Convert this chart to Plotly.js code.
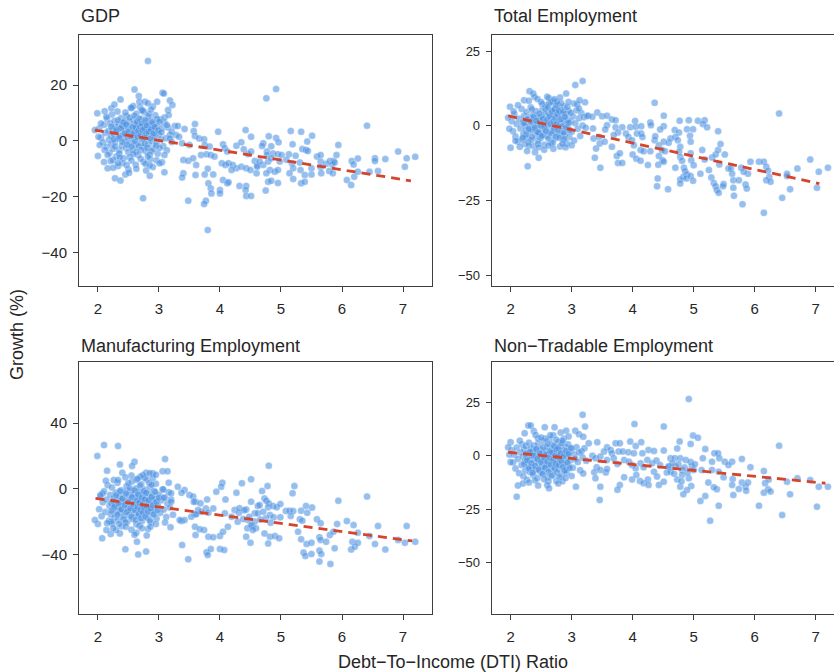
<!DOCTYPE html>
<html>
<head>
<meta charset="utf-8">
<script src="https://cdn.plot.ly/plotly-3.0.1.min.js"></script>
<style>
html,body{margin:0;padding:0;overflow:hidden;background:#fff;}
#chart{width:860px;height:672px;}
</style>
</head>
<body>
<div id="chart"></div>
<script>
// ---- Data (DTI ratio, growth %) ----
const gdpPoints = [
[2.02,4.5],[2.05,1.2],[2.08,-0.5],[2.10,5.8],[2.12,2.9],[2.14,-2.1],[2.15,8.0],[2.17,3.6],[2.18,0.4],[2.19,-4.3],[2.20,6.3],[2.21,1.8],[2.22,-1.0],[2.23,9.5],[2.24,4.1],[2.25,-2.8],[2.26,2.5],[2.27,7.2],[2.28,-0.3],[2.29,5.0],[2.30,-5.6],[2.31,3.2],[2.32,10.6],[2.33,0.9],[2.34,6.0],[2.35,-3.4],[2.36,4.4],[2.37,1.6],[2.38,8.2],[2.39,-1.7],[2.40,5.5],[2.41,2.3],[2.42,-6.2],[2.43,7.0],[2.44,0.2],[2.45,3.8],[2.46,-2.5],[2.47,9.0],[2.48,5.2],[2.49,1.1],[2.50,-4.0],[2.51,6.8],[2.52,3.0],[2.53,-0.8],[2.54,11.8],[2.55,4.7],[2.56,2.0],[2.57,-3.1],[2.58,7.6],[2.59,0.5],[2.60,5.9],[2.61,3.4],[2.62,-1.4],[2.63,9.8],[2.64,1.9],[2.65,6.4],[2.66,-5.0],[2.67,4.0],[2.68,2.6],[2.69,12.2],[2.70,-0.6],[2.71,7.9],[2.72,3.7],[2.73,0.8],[2.74,5.4],[2.75,-2.2],[2.76,10.3],[2.77,2.8],[2.78,6.7],[2.79,-3.8],[2.80,4.3],[2.81,1.3],[2.82,8.8],[2.83,-1.1],[2.84,5.7],[2.85,3.1],[2.86,-6.6],[2.87,7.3],[2.88,0.0],[2.89,4.9],[2.90,2.2],[2.91,-2.9],[2.92,6.1],[2.93,1.5],[2.94,9.2],[2.95,3.5],[2.96,-0.9],[2.97,5.3],[2.98,-4.6],[3.00,2.4],[3.02,7.7],[3.03,0.6],[3.05,4.6],[3.07,-1.8],[3.09,6.5],[3.11,1.0],[3.13,-3.3],[3.15,4.8],[3.18,2.1],[3.21,-0.4],
[2.22,5.2],[2.26,0.6],[2.30,3.9],[2.33,7.4],[2.35,1.2],[2.38,4.6],[2.40,-0.4],[2.42,6.6],[2.44,2.7],[2.46,5.9],[2.48,-1.3],[2.50,3.3],[2.52,8.4],[2.53,1.7],[2.55,-2.0],[2.57,5.0],[2.59,2.9],[2.60,9.1],[2.61,-0.2],[2.62,4.8],[2.64,6.9],[2.65,1.4],[2.66,3.6],[2.67,-1.9],[2.68,8.0],[2.69,5.1],[2.70,2.0],[2.71,-3.2],[2.72,6.2],[2.73,3.9],[2.74,10.8],[2.75,1.0],[2.76,4.4],[2.77,-0.9],[2.78,7.5],[2.79,2.6],[2.80,5.6],[2.81,-2.4],[2.83,3.4],[2.84,9.6],[2.86,0.9],[2.87,4.2],[2.88,-3.6],[2.89,6.7],[2.91,2.7],[2.93,5.0],[2.95,-1.6],[2.97,7.9],[2.99,3.8],[3.01,-2.5],[2.58,12.5],[2.72,11.0],[2.45,10.2],[2.90,12.4],[2.35,-4.5],[2.63,-3.9],[2.85,-4.9],[2.52,-5.8],[2.75,-7.5],[2.28,-2.0],
[2.10,-7.5],[2.25,-6.8],[2.33,-9.0],[2.40,-7.9],[2.55,-7.0],[2.62,-8.5],[2.70,-6.4],[2.78,-8.2],[2.90,-9.3],[2.96,-6.9],[2.45,-12.0],[2.58,-4.7],[2.36,-5.9],[2.16,-9.8],[2.50,-10.2],[2.85,-12.5],[3.05,-7.6],
[1.99,9.9],[1.95,3.9],[2.01,1.5],[2.00,-5.4],[2.03,-1.4],[2.11,-3.2],[2.16,-5.0],[2.21,-7.2],[2.25,-9.6],[2.33,-8.0],[2.28,-13.4],[2.37,-14.2],[2.51,-11.4],[2.63,-10.0],[2.47,-8.6],[2.79,-10.6],[2.85,-8.8],[2.82,-5.6],[3.01,-8.0],[3.09,-11.2],[3.09,-5.0],[3.04,3.1],[2.22,11.7],[2.11,10.7],[2.27,13.1],[2.37,14.9],[2.14,8.7],[2.05,6.3],[2.55,11.9],[2.60,18.5],[2.67,16.1],[2.68,14.1],[2.77,14.1],[2.82,13.5],[2.87,11.3],[2.97,14.1],[3.06,17.3],[3.08,17.0],[3.18,14.5],[3.22,12.9],[3.15,11.1],[3.09,8.4],[3.16,9.3],[3.01,6.9],[2.82,28.7],[2.74,-20.5],
[3.13,5.7],[3.26,5.4],[3.31,5.4],[3.42,4.3],[3.21,3.3],[3.28,2.1],[3.33,1.5],[3.59,6.1],[3.57,3.6],[3.59,1.8],[3.66,0.9],[3.74,0.6],[3.97,3.3],[4.42,3.9],[4.51,1.5],[3.18,0.9],[3.38,-0.8],[3.50,-1.4],[3.75,-1.4],[3.83,-2.0],[4.05,-1.2],[4.08,-2.6],[4.12,-3.8],[4.27,-1.7],[4.35,-0.5],[4.39,-3.0],[4.46,-4.7],[4.57,-7.2],[4.61,-8.8],[3.40,-6.8],[3.48,-7.1],[3.56,-6.2],[3.69,-5.0],[3.78,-4.8],[3.85,-5.0],[3.91,-5.6],[3.61,-8.6],[3.80,-10.0],[4.03,-8.0],[4.09,-8.6],[4.14,-8.0],[4.21,-8.6],[4.27,-9.8],[4.35,-9.2],[4.43,-9.8],[4.50,-10.4],[4.19,-10.4],[3.89,-12.0],[3.75,-12.0],[3.60,-12.2],[3.40,-11.6],[3.38,-13.1],[3.81,-15.2],[3.85,-17.0],[3.86,-18.8],[4.00,-17.6],[4.00,-18.8],[4.05,-14.0],[4.12,-15.2],[4.14,-14.8],[4.32,-16.1],[4.43,-16.1],[4.42,-17.6],[4.43,-19.7],[4.51,-19.7],[3.48,-21.4],[3.77,-21.4],[3.74,-22.6],[3.80,-31.9],
[4.76,15.3],[4.92,18.6],[6.41,5.5],[4.80,1.7],[4.92,1.1],[5.16,3.6],[5.33,3.3],[5.51,1.9],[4.96,-0.5],[4.71,-0.8],[4.69,-1.8],[4.84,-1.9],[5.19,-1.2],[5.35,-2.9],[5.43,-0.2],[5.41,-3.2],[5.44,-3.6],[5.94,-1.4],[4.51,-3.8],[4.77,-3.8],[4.77,-5.0],[4.87,-4.5],[4.95,-4.8],[5.01,-5.0],[5.13,-4.8],[5.24,-5.3],[5.09,-6.7],[5.31,-7.7],[5.18,-8.0],[5.50,-9.8],[5.59,-5.6],[5.65,-5.0],[5.65,-7.4],[5.65,-9.4],[5.66,-11.6],[5.74,-8.2],[5.80,-7.2],[5.86,-7.2],[5.84,-8.4],[5.88,-7.7],[5.91,-5.0],[5.79,-10.8],[5.85,-11.6],[6.16,-7.2],[6.19,-8.4],[6.26,-6.3],[6.08,-14.0],[6.15,-15.8],[6.20,-12.8],[6.26,-11.0],[6.45,-11.0],[6.59,-10.8],[6.54,-6.2],[6.54,-7.2],[6.71,-6.5],[6.92,-3.8],[7.06,-6.2],[7.20,-5.7],[7.03,-9.2],[4.79,-14.6],[4.84,-14.3],[4.75,-17.8],[5.20,-13.6],[5.33,-15.2],[5.39,-14.6],[5.14,-11.6],[5.39,-12.2],[5.50,-12.0],[4.95,-15.1],[4.82,-10.4],[4.90,-11.0],[4.95,-10.4],[4.71,-8.6],[4.65,-7.4],[4.61,-9.2],[4.60,-11.6],[4.79,-7.4],[4.84,-6.2],[4.98,-7.4],[4.76,-11.6],[5.20,-9.8],[5.32,-10.4]
];
const totPoints = [
[2.02,1.5],[2.04,-1.8],[2.06,3.9],[2.08,-3.6],[2.10,0.6],[2.12,-5.2],[2.14,2.4],[2.16,-0.9],[2.18,5.6],[2.19,-4.5],[2.20,1.2],[2.21,-2.7],[2.22,3.3],[2.23,-6.1],[2.24,0.2],[2.25,-1.5],[2.26,4.6],[2.27,-3.9],[2.28,1.9],[2.29,-5.5],[2.30,-0.4],[2.31,2.8],[2.32,-2.1],[2.33,6.2],[2.34,-4.8],[2.35,0.9],[2.36,-1.2],[2.37,3.6],[2.38,-6.8],[2.39,-0.1],[2.40,2.1],[2.41,-3.2],[2.42,4.9],[2.43,-1.9],[2.44,0.5],[2.45,-5.0],[2.46,2.6],[2.47,-2.4],[2.48,1.4],[2.49,-4.1],[2.50,3.0],[2.51,-0.7],[2.52,5.3],[2.53,-2.9],[2.54,0.8],[2.55,-6.3],[2.56,3.8],[2.57,-1.3],[2.58,6.8],[2.59,1.6],[2.60,-3.5],[2.61,4.4],[2.62,0.0],[2.63,7.5],[2.64,-2.2],[2.65,2.9],[2.66,-5.7],[2.67,5.1],[2.68,1.1],[2.69,8.3],[2.70,-1.6],[2.71,3.5],[2.72,-4.3],[2.73,6.0],[2.74,0.4],[2.75,-2.6],[2.76,4.2],[2.77,-0.5],[2.78,7.1],[2.79,-3.0],[2.80,2.3],[2.81,-6.9],[2.82,5.4],[2.83,0.7],[2.84,-1.9],[2.85,3.9],[2.86,-4.6],[2.87,1.8],[2.88,6.5],[2.89,-2.8],[2.90,0.3],[2.91,4.0],[2.92,-5.9],[2.93,2.0],[2.94,-0.8],[2.95,5.0],[2.96,-3.7],[2.98,1.3],[3.00,-2.0],[3.02,3.1],[3.04,-4.9],[3.06,0.9],[3.08,5.2],[3.10,-1.0],[3.12,2.5],[3.14,-3.4],[3.16,4.3],[3.18,0.1],[3.20,2.9],[3.23,-0.6],[3.25,3.3],
[2.22,0.9],[2.25,-3.0],[2.27,2.2],[2.30,-1.1],[2.33,1.5],[2.35,-3.8],[2.38,3.0],[2.40,-0.8],[2.42,1.7],[2.45,-2.2],[2.47,4.1],[2.49,0.1],[2.51,-3.4],[2.53,2.4],[2.55,-0.3],[2.57,5.7],[2.58,-1.8],[2.60,2.0],[2.61,6.3],[2.62,-4.2],[2.64,3.3],[2.65,0.6],[2.66,7.9],[2.67,-2.5],[2.68,4.8],[2.70,1.5],[2.71,-0.9],[2.72,5.5],[2.73,2.6],[2.74,-3.7],[2.75,6.9],[2.76,0.8],[2.77,3.9],[2.78,-1.3],[2.79,5.1],[2.80,-4.0],[2.82,2.2],[2.83,7.6],[2.84,-0.2],[2.86,4.7],[2.87,-2.3],[2.89,3.0],[2.91,-0.6],[2.93,6.3],[2.95,1.0],[2.97,-1.5],[2.99,4.4],[2.63,9.2],[2.76,8.0],[2.52,7.2],[2.35,5.5],[2.45,-6.0],[2.69,-5.8],[2.88,-4.4],[2.30,-6.6],
[1.99,6.4],[1.96,2.7],[2.00,-7.3],[2.28,-13.5],[2.46,-10.7],[2.27,-8.4],[2.46,-7.2],[2.08,-5.0],[2.90,-7.2],[2.31,11.6],[2.37,10.8],[2.39,9.7],[2.22,8.6],[2.30,8.4],[2.60,9.7],[2.81,9.5],[2.91,10.8],[3.04,7.5],[3.09,7.2],[3.22,7.9],[3.13,8.6],[3.06,13.7],[3.18,15.0],[2.55,-8.0],[2.70,-7.7],[2.15,-7.0],[2.40,-8.8],[2.62,-6.6],[2.85,-6.0],[3.00,-6.5],[2.20,-4.0],[1.98,-1.0],[2.05,4.8],[2.12,6.9],[2.50,8.0],[2.72,8.9],[2.95,8.0],[3.12,5.8],[2.44,9.0],
[3.42,4.5],[3.27,3.4],[3.34,3.0],[3.50,3.2],[3.58,3.4],[3.66,2.1],[3.72,1.9],[3.58,0.2],[3.55,-1.2],[3.72,-0.5],[3.83,-0.5],[3.76,-2.2],[3.69,-3.1],[3.89,-2.6],[3.96,-0.5],[4.04,1.6],[4.05,-0.3],[4.14,-0.1],[4.29,1.1],[4.30,0.2],[4.36,7.7],[4.51,3.4],[4.51,-0.1],[4.45,-1.2],[3.35,-0.9],[3.36,-4.2],[3.45,-3.7],[3.40,-7.6],[3.46,-5.9],[3.54,-5.3],[3.66,-7.0],[3.74,-10.1],[3.79,-9.2],[3.76,-12.4],[3.83,-12.4],[3.38,-10.7],[3.47,-14.0],[3.93,-3.7],[3.99,-4.8],[4.02,-6.5],[4.07,-2.6],[4.14,-2.6],[4.16,-3.7],[4.13,-8.1],[4.18,-8.5],[4.00,-9.6],[4.06,-11.0],[4.13,-11.7],[4.25,-13.1],[4.29,-8.5],[4.36,-4.8],[4.43,-6.5],[4.48,-8.1],[4.37,-3.5],[4.51,-5.3],[4.59,-5.7],[4.62,-4.2],[4.43,-10.1],[4.49,-11.5],[4.42,-13.0],[4.41,-17.6],[4.40,-20.2],[4.58,-21.2],
[6.40,4.1],[4.77,1.7],[4.92,1.9],[5.07,1.7],[5.18,1.9],[5.15,0.6],[5.22,-0.5],[5.40,-1.8],[4.69,-1.4],[4.76,-2.2],[4.89,-1.1],[4.99,-1.1],[4.70,-3.7],[4.74,-4.8],[4.94,-3.3],[4.95,-5.3],[4.78,-7.0],[4.76,-8.7],[4.53,-8.5],[4.51,-12.0],[4.70,-14.0],[4.78,-10.4],[4.81,-11.7],[4.84,-14.0],[4.86,-15.2],[4.89,-16.2],[4.83,-17.1],[4.78,-18.0],[4.78,-19.3],[4.88,-17.6],[4.95,-16.8],[4.99,-18.4],[4.95,-9.2],[4.96,-11.5],[5.00,-13.2],[5.11,-16.0],[5.14,-8.1],[5.18,-11.3],[5.25,-14.8],[5.29,-17.3],[5.33,-19.1],[5.36,-20.2],[5.38,-21.5],[5.41,-22.4],[5.30,-10.6],[5.36,-9.6],[5.40,-8.1],[5.44,-6.1],[5.51,-9.6],[5.42,-12.9],[5.49,-19.5],[5.48,-20.2],[5.57,-14.3],[5.61,-14.3],[5.63,-16.0],[5.65,-18.2],[5.65,-20.7],[5.66,-23.4],[5.80,-26.2],[5.78,-14.0],[5.74,-18.2],[5.85,-19.6],[5.87,-21.0],[5.89,-16.0],[5.93,-12.0],[5.82,-15.4],[6.07,-12.0],[6.15,-12.0],[6.19,-13.7],[6.22,-15.0],[6.24,-17.1],[6.19,-18.2],[6.26,-18.7],[6.15,-29.1],[6.45,-24.1],[6.53,-16.0],[6.53,-16.8],[6.58,-21.2],[6.70,-14.3],[6.91,-11.3],[7.05,-15.4],[7.02,-20.7],[7.20,-14.0]
];
const mfgPoints = [
[2.02,-12.5],[2.04,-5.0],[2.06,-16.8],[2.08,-8.3],[2.10,-1.6],[2.12,-14.2],[2.14,-6.7],[2.16,2.1],[2.18,-19.5],[2.19,-10.4],[2.20,-3.8],[2.21,-15.6],[2.22,-8.9],[2.23,0.7],[2.24,-21.3],[2.25,-12.0],[2.26,-5.5],[2.27,-17.4],[2.28,-9.7],[2.29,-2.4],[2.30,-13.8],[2.31,-7.1],[2.32,3.6],[2.33,-19.0],[2.34,-11.2],[2.35,-4.6],[2.36,-15.0],[2.37,-8.0],[2.38,-0.9],[2.39,-22.8],[2.40,-12.9],[2.41,-6.3],[2.42,-17.0],[2.43,-9.5],[2.44,-2.0],[2.45,-14.4],[2.46,-7.6],[2.47,1.5],[2.48,-20.1],[2.49,-11.6],[2.50,-4.2],[2.51,-16.2],[2.52,-8.7],[2.53,-1.2],[2.54,-13.3],[2.55,-6.0],[2.56,4.4],[2.57,-18.5],[2.58,-10.8],[2.59,-3.3],[2.60,-14.9],[2.61,-7.8],[2.62,0.2],[2.63,-21.6],[2.64,-12.4],[2.65,-5.1],[2.66,-16.5],[2.67,-9.2],[2.68,-1.8],[2.69,-13.6],[2.70,-6.9],[2.71,2.8],[2.72,-19.8],[2.73,-11.0],[2.74,-3.9],[2.75,-15.3],[2.76,-8.4],[2.77,-0.5],[2.78,-12.2],[2.79,-5.8],[2.80,5.6],[2.81,-17.7],[2.82,-10.1],[2.83,-2.7],[2.84,-14.0],[2.85,-7.3],[2.86,1.0],[2.87,-20.6],[2.88,-11.8],[2.89,-4.4],[2.90,-16.0],[2.91,-8.6],[2.92,-1.4],[2.93,-13.0],[2.94,-6.2],[2.95,3.0],[2.96,-18.2],[2.98,-10.0],[3.00,-3.6],[3.02,-14.7],[3.04,-7.0],[3.06,-0.3],[3.08,-12.6],[3.10,-5.3],[3.12,-17.2],[3.14,-9.0],[3.16,-2.2],[3.18,-11.4],[3.20,-6.5],[3.23,-15.8],
[2.22,-13.5],[2.25,-7.5],[2.27,-11.0],[2.30,-4.0],[2.32,-15.8],[2.34,-9.0],[2.36,-1.5],[2.38,-12.5],[2.40,-6.0],[2.42,-18.5],[2.44,-10.0],[2.46,-3.0],[2.48,-14.0],[2.50,-8.0],[2.52,0.5],[2.53,-12.0],[2.55,-17.0],[2.56,-5.0],[2.58,-9.5],[2.60,-1.0],[2.61,-13.0],[2.62,-19.0],[2.64,-7.0],[2.65,-11.0],[2.66,-3.5],[2.67,-15.5],[2.68,-8.5],[2.69,2.0],[2.70,-12.8],[2.71,-18.0],[2.72,-5.5],[2.73,-9.8],[2.74,-14.5],[2.75,-1.5],[2.76,-11.5],[2.77,-6.5],[2.78,-17.0],[2.79,-2.5],[2.80,-10.5],[2.82,-14.0],[2.83,-7.0],[2.84,3.5],[2.86,-12.0],[2.88,-5.0],[2.90,-10.0],[2.92,-15.5],[2.94,-2.0],[2.96,-8.0],[2.98,-13.0],[3.00,-5.5],[2.63,5.5],[2.77,6.5],[2.50,3.5],[2.88,2.5],[2.45,-20.5],[2.68,-22.5],[2.85,-19.5],[2.35,-21.5],
[2.10,26.6],[2.33,26.0],[1.99,19.9],[3.10,18.1],[2.36,14.8],[2.60,16.5],[2.56,13.8],[2.15,11.0],[2.40,9.8],[3.06,10.6],[3.14,10.6],[2.79,9.8],[2.74,8.3],[2.90,9.4],[2.13,4.9],[2.26,5.3],[2.33,5.3],[3.16,3.7],[3.07,-0.4],[3.08,-5.5],[3.20,-2.8],[3.20,-7.9],[3.19,-23.5],[2.79,-38.3],[2.66,-40.0],[2.45,-36.9],[2.64,-32.3],[2.63,-26.8],[2.82,-24.5],[2.86,-23.1],[2.46,-23.1],[2.36,-27.2],[2.30,-25.2],[2.21,-27.6],[2.07,-30.2],[2.14,-25.2],[2.00,-21.5],[1.95,-19.1],[2.22,-20.1],[2.08,-2.8],[2.04,-3.8],
[2.55,8.0],[2.70,7.5],[2.85,9.5],[2.65,6.0],[2.45,7.0],[2.90,6.5],[2.95,8.5],[2.55,-25.0],[2.72,-24.0],[2.95,-21.5],[2.60,-28.0],[2.80,-28.5],[2.25,-24.0],[2.15,-21.0],[3.10,-20.5],
[3.31,1.2],[3.42,-0.8],[3.37,-2.4],[3.50,-3.8],[3.56,-4.8],[3.60,-7.9],[3.68,-8.9],[3.94,-1.8],[4.04,3.7],[4.02,1.2],[4.09,-6.5],[4.27,-2.4],[4.36,3.3],[4.51,5.7],[4.51,-7.9],[4.43,-12.6],[4.62,-10.5],[3.79,-6.5],[3.77,-12.0],[3.89,-12.0],[3.81,-14.6],[3.70,-14.0],[3.64,-13.0],[3.59,-15.6],[3.53,-17.0],[3.37,-19.7],[3.42,-19.1],[3.59,-23.1],[3.74,-25.2],[3.81,-29.2],[3.60,-28.2],[3.89,-29.6],[4.00,-28.8],[4.05,-26.2],[4.13,-23.1],[4.19,-17.0],[4.08,-15.0],[4.24,-13.0],[4.31,-14.6],[4.29,-20.1],[4.46,-19.1],[4.57,-15.0],[4.45,-24.1],[4.53,-22.7],[4.50,-32.9],[4.43,-29.2],[3.38,-34.3],[3.78,-38.7],[3.80,-40.4],[3.85,-36.7],[4.00,-36.7],[4.07,-37.3],[3.48,-43.0],[3.57,-7.9],[3.61,-15.6],[3.67,-24.7],[3.34,-19.0],
[4.32,-11.9],[4.40,-13.1],[4.48,-17.0],[4.62,-15.0],[4.57,-20.0],[4.38,-18.5],[4.66,-18.8],
[4.80,14.0],[6.41,-4.8],[5.94,-7.3],[4.69,-1.4],[4.78,1.6],[5.19,-2.8],[5.22,1.6],[4.73,-5.9],[4.76,-7.3],[4.80,-8.9],[4.79,-11.3],[4.87,-10.5],[4.93,-11.3],[4.99,-9.3],[4.65,-9.9],[4.71,-14.0],[4.75,-18.0],[4.82,-16.0],[4.88,-17.4],[4.99,-17.4],[4.83,-20.7],[4.51,-22.1],[4.59,-24.1],[4.54,-25.1],[4.73,-27.2],[4.82,-29.2],[4.90,-28.8],[4.97,-30.2],[4.79,-33.3],[5.08,-13.6],[5.14,-13.4],[5.20,-13.6],[5.16,-16.6],[5.33,-13.4],[5.41,-10.5],[5.43,-14.6],[5.51,-11.5],[5.31,-18.6],[5.35,-19.5],[5.28,-26.2],[5.33,-30.8],[5.42,-33.7],[5.50,-32.9],[5.37,-38.9],[5.40,-41.0],[5.50,-39.8],[5.59,-18.6],[5.65,-21.1],[5.63,-29.6],[5.65,-31.2],[5.63,-37.7],[5.66,-39.8],[5.63,-44.4],[5.81,-45.8],[5.74,-32.3],[5.80,-28.2],[5.86,-26.2],[5.92,-21.5],[5.88,-36.3],[6.08,-19.7],[6.19,-22.1],[6.26,-26.8],[6.17,-32.3],[6.15,-37.0],[6.21,-35.3],[6.26,-32.9],[6.45,-28.8],[6.54,-33.7],[6.59,-22.7],[6.71,-37.0],[6.92,-31.2],[7.06,-22.7],[7.03,-32.9],[7.20,-32.3]
];
const ntPoints = [
[2.02,2.5],[2.04,-3.2],[2.06,0.4],[2.08,-6.0],[2.10,3.8],[2.12,-1.5],[2.14,-8.2],[2.16,1.6],[2.18,-4.4],[2.19,5.2],[2.20,-0.3],[2.21,-9.6],[2.22,2.9],[2.23,-2.6],[2.24,-6.9],[2.25,4.5],[2.26,-0.9],[2.27,-11.3],[2.28,1.1],[2.29,-4.9],[2.30,6.1],[2.31,-2.0],[2.32,-7.7],[2.33,3.4],[2.34,-0.1],[2.35,-5.4],[2.36,1.9],[2.37,-9.0],[2.38,4.8],[2.39,-2.9],[2.40,0.7],[2.41,-6.5],[2.42,2.6],[2.43,-1.2],[2.44,-10.5],[2.45,5.6],[2.46,-3.7],[2.47,0.0],[2.48,-7.3],[2.49,3.0],[2.50,-1.8],[2.51,-5.0],[2.52,1.4],[2.53,-8.6],[2.54,6.8],[2.55,-2.3],[2.56,-0.5],[2.57,-6.1],[2.58,2.2],[2.59,-3.9],[2.60,4.1],[2.61,-10.0],[2.62,0.9],[2.63,-4.6],[2.64,7.4],[2.65,-1.0],[2.66,-7.0],[2.67,2.7],[2.68,-2.5],[2.69,5.0],[2.70,-8.9],[2.71,-0.2],[2.72,-5.3],[2.73,3.6],[2.74,-1.6],[2.75,-11.8],[2.76,1.2],[2.77,-3.4],[2.78,6.3],[2.79,-6.3],[2.80,0.3],[2.81,-2.1],[2.82,4.3],[2.83,-9.3],[2.84,-0.7],[2.85,2.4],[2.86,-4.1],[2.87,8.0],[2.88,-6.7],[2.89,1.0],[2.90,-2.8],[2.91,3.9],[2.92,-8.0],[2.93,-0.4],[2.94,5.4],[2.95,-4.8],[2.96,1.7],[2.98,-2.2],[3.00,3.2],[3.02,-5.6],[3.04,0.6],[3.06,-1.4],[3.08,4.0],[3.10,-3.0],[3.12,1.5],[3.14,-6.8],[3.16,2.0],[3.18,-0.8],[3.21,3.5],[3.24,-2.4],
[2.22,-4.0],[2.25,0.8],[2.27,-2.2],[2.30,-6.0],[2.32,1.8],[2.34,-3.5],[2.36,-8.0],[2.38,0.0],[2.40,-4.8],[2.42,3.2],[2.44,-1.5],[2.46,-6.5],[2.48,1.0],[2.50,-3.0],[2.52,-8.5],[2.53,4.0],[2.55,-1.0],[2.56,-5.5],[2.58,0.5],[2.60,-2.8],[2.61,5.5],[2.62,-7.5],[2.64,-0.8],[2.65,2.0],[2.66,-4.2],[2.67,-9.5],[2.68,1.5],[2.70,-2.0],[2.71,4.5],[2.72,-6.0],[2.73,0.0],[2.74,-3.8],[2.75,2.8],[2.76,-7.8],[2.77,-0.5],[2.78,3.5],[2.79,-4.5],[2.80,-10.0],[2.82,1.2],[2.83,-2.5],[2.84,5.8],[2.86,-5.2],[2.87,-0.2],[2.89,-7.0],[2.91,2.2],[2.93,-3.2],[2.95,0.8],[2.97,-5.8],[2.99,3.6],[2.57,8.0],[2.70,9.5],[2.85,7.0],[2.45,8.0],[2.62,-12.0],[2.78,-13.0],[2.40,-11.5],
[3.18,19.1],[3.22,13.6],[2.29,14.1],[2.33,14.1],[2.23,10.5],[2.38,11.6],[2.41,9.7],[2.56,13.3],[2.72,13.3],[2.82,10.8],[2.91,11.7],[3.06,11.7],[3.12,10.0],[3.19,8.9],[2.00,6.3],[1.96,3.9],[3.07,-14.5],[3.19,-8.3],[2.60,-13.7],[2.63,-15.3],[2.12,-14.0],[2.10,-19.2],
[2.50,8.5],[2.65,9.5],[2.15,7.0],[2.95,9.0],[2.75,7.5],[2.30,-12.5],[2.45,-14.0],[2.85,-12.0],[2.55,-11.0],[2.00,-3.0],[1.98,0.5],[2.20,-13.0],[2.90,-10.5],[3.00,-9.5],
[4.03,14.8],[4.51,13.6],[3.42,6.3],[3.28,5.8],[3.72,5.8],[3.79,5.8],[3.96,6.6],[4.14,6.3],[4.05,4.5],[3.58,3.9],[3.64,2.7],[3.53,1.9],[3.66,1.1],[3.77,1.9],[3.84,1.9],[3.93,1.6],[4.02,1.1],[4.16,1.1],[4.26,2.7],[4.35,2.2],[4.51,2.4],[3.34,0.0],[3.39,-1.2],[3.47,-0.4],[3.58,-2.0],[3.69,-1.2],[3.75,-3.9],[3.86,-2.0],[3.94,-2.8],[3.99,-4.4],[4.05,-5.9],[4.13,-3.6],[4.18,-5.4],[4.24,-2.0],[4.32,-3.6],[4.39,-2.3],[4.45,-4.4],[4.59,-5.1],[3.41,-5.4],[3.37,-7.8],[3.47,-6.7],[3.56,-7.9],[3.39,-10.6],[3.58,-6.2],[3.99,-11.1],[4.06,-9.0],[4.12,-11.8],[4.18,-12.9],[4.25,-11.1],[4.26,-13.7],[4.35,-7.5],[4.40,-9.8],[4.43,-13.7],[4.56,-7.9],[3.86,-10.1],[3.79,-13.7],[3.75,-16.0],[3.47,-14.5],[3.46,-20.7],
[4.92,26.5],[4.99,9.4],[5.07,8.4],[6.40,4.7],[4.77,6.6],[4.95,5.5],[4.73,3.4],[5.19,3.1],[5.34,1.1],[5.40,1.1],[5.42,-1.2],[5.30,-2.8],[5.51,-2.8],[5.63,-2.8],[5.79,-1.5],[5.57,-4.4],[5.15,-1.2],[4.62,-1.2],[4.69,-1.2],[4.78,-1.2],[4.87,-2.0],[4.59,-5.1],[4.70,-5.1],[4.81,-6.7],[4.97,-5.1],[5.00,-6.7],[5.13,-6.7],[5.30,-6.7],[5.49,-10.1],[5.41,-7.5],[5.93,-5.4],[5.64,-10.9],[5.63,-13.7],[5.65,-18.4],[5.74,-15.6],[5.79,-12.6],[5.85,-14.5],[5.86,-16.4],[5.89,-12.6],[6.15,-7.2],[6.17,-12.9],[6.15,-17.3],[6.22,-15.7],[6.26,-16.8],[6.23,-11.1],[6.45,-27.8],[6.53,-12.2],[6.58,-18.1],[6.70,-10.6],[6.91,-11.4],[7.05,-14.5],[7.02,-23.9],[7.20,-14.5],[6.07,-23.4],[5.41,-23.4],[5.27,-30.4],[5.11,-21.2],[5.19,-18.9],[5.38,-15.7],[5.33,-14.8],[5.24,-12.6],[4.96,-14.2],[4.89,-16.1],[4.83,-18.1],[4.78,-14.5],[4.73,-11.1],[4.92,-10.6],[4.81,-9.0],[4.62,-7.5],[4.51,-12.2],
[4.65,-3.5],[4.75,-4.0],[4.85,-5.5],[4.90,-8.0],[4.68,-8.5],[4.95,-3.0],[5.02,-4.0],[4.80,-12.0]
];
// fitted trend lines: [x, y] end points
const gdpTrend = [[1.95,3.9],[7.13,-14.3]];
const totTrend = [[1.96,3.3],[7.06,-19.3]];
const mfgTrend = [[1.96,-5.9],[7.15,-31.8]];
const ntTrend  = [[1.96,1.6],[7.16,-12.9]];

const panelTitles = ['GDP','Total Employment','Manufacturing Employment','Non\u2212Tradable Employment'];
const xTicks = [2,3,4,5,6,7];
const yTicksGdp = [-40,-20,0,20];
const yTicksTot = [-50,-25,0,25];
const yTicksMfg = [-40,0,40];
const yTicksNt  = [-50,-25,0,25];
const xLabel = 'Debt\u2212To\u2212Income (DTI) Ratio';
const yLabel = 'Growth (%)';

// ---- Build ----
const FONT = 'Liberation Sans, Arial, Helvetica, sans-serif';
const TXT = '#262626';
const LINE = '#3d3d3d';
const panels = [gdpPoints, totPoints, mfgPoints, ntPoints];
const trends = [gdpTrend, totTrend, mfgTrend, ntTrend];
const traces = [];
panels.forEach((pts, i) => {
  const ax = i === 0 ? '' : String(i + 1);
  traces.push({
    type: 'scatter', mode: 'markers',
    x: pts.map(p => p[0]), y: pts.map(p => p[1]),
    xaxis: 'x' + ax, yaxis: 'y' + ax,
    marker: {size: 7, color: 'rgba(74,144,226,0.58)', line: {width: 0.5, color: 'rgba(255,255,255,0.5)'}},
    hoverinfo: 'skip'
  });
});
trends.forEach((t, i) => {
  const ax = i === 0 ? '' : String(i + 1);
  traces.push({
    type: 'scatter', mode: 'lines',
    x: t.map(p => p[0]), y: t.map(p => p[1]),
    xaxis: 'x' + ax, yaxis: 'y' + ax,
    line: {color: '#d5452d', width: 2.8, dash: '9px,6px'},
    hoverinfo: 'skip'
  });
});

const W = 860, H = 672;
const px = v => v / W, py = v => 1 - v / H;
const colX = [[px(79), px(431.7)], [px(491.7), px(844.4)]];
const rowY = [[py(286), py(35)], [py(614), py(362.3)]];
const yRanges = [[-52, 38], [-53.6, 30.4], [-76.3, 77], [-74.1, 43.7]];
const yTickSets = [yTicksGdp, yTicksTot, yTicksMfg, yTicksNt];
const yTickSize = [15, 13, 15, 13];

const layout = {
  width: W, height: H,
  margin: {l: 0, r: 0, t: 0, b: 0},
  paper_bgcolor: '#fff', plot_bgcolor: '#fff',
  showlegend: false,
  font: {family: FONT, color: TXT},
  annotations: []
};
for (let i = 0; i < 4; i++) {
  const ax = i === 0 ? '' : String(i + 1);
  const c = i % 2, r = Math.floor(i / 2);
  layout['xaxis' + ax] = {
    domain: colX[c], anchor: 'y' + ax, range: [1.69, 7.47],
    tickvals: xTicks, ticks: 'outside', ticklen: 5, tickwidth: 1, tickcolor: LINE,
    showline: true, mirror: true, linecolor: LINE, linewidth: 1,
    showgrid: false, zeroline: false, ticklabelstandoff: 4,
    tickfont: {family: FONT, size: 15, color: TXT}
  };
  layout['yaxis' + ax] = {
    domain: rowY[r], anchor: 'x' + ax, range: yRanges[i],
    tickvals: yTickSets[i], ticks: 'outside', ticklen: 5, tickwidth: 1, tickcolor: LINE,
    showline: true, mirror: true, linecolor: LINE, linewidth: 1,
    showgrid: false, zeroline: false, ticklabelstandoff: 3,
    tickfont: {family: FONT, size: yTickSize[i], color: TXT}
  };
  layout.annotations.push({
    text: panelTitles[i], xref: 'paper', yref: 'paper',
    x: colX[c][0], y: r === 0 ? py(16.5) : py(345.5),
    xanchor: 'left', yanchor: 'middle', showarrow: false,
    font: {family: FONT, size: 18, color: TXT}
  });
}
layout.annotations.push({
  text: xLabel, xref: 'paper', yref: 'paper', x: px(453), y: py(661.8),
  xanchor: 'center', yanchor: 'middle', showarrow: false,
  font: {family: FONT, size: 18, color: TXT}
});
layout.annotations.push({
  text: yLabel, xref: 'paper', yref: 'paper', x: px(17), y: py(335),
  xanchor: 'center', yanchor: 'middle', textangle: -90, showarrow: false,
  font: {family: FONT, size: 18, color: TXT}
});

Plotly.newPlot('chart', traces, layout, {staticPlot: true, displayModeBar: false});
</script>
</body>
</html>
